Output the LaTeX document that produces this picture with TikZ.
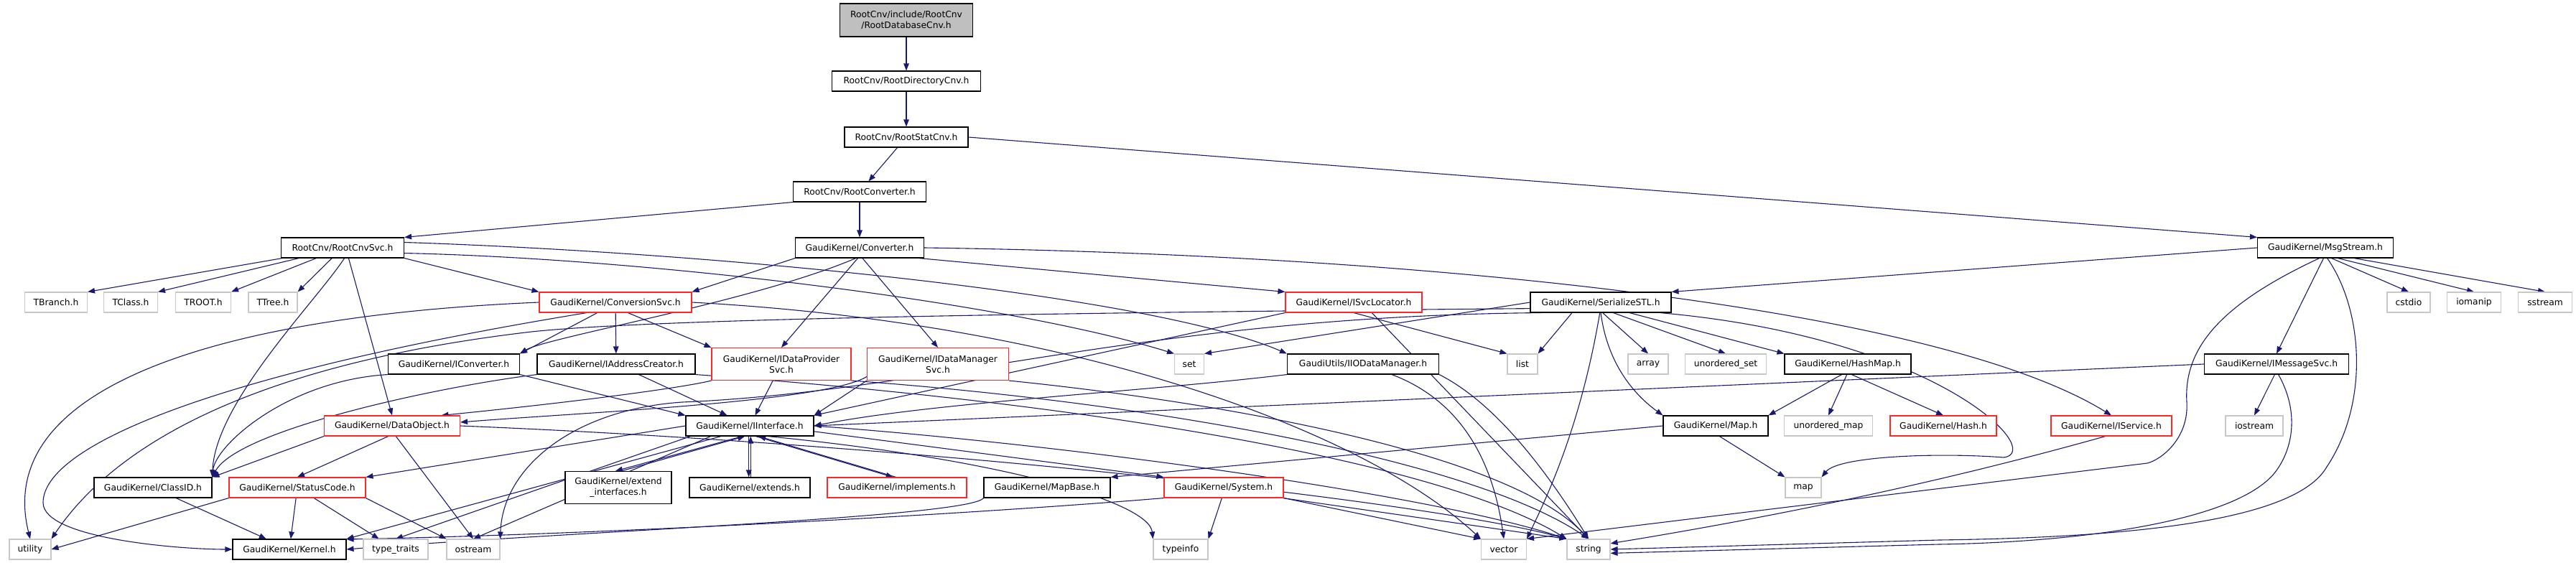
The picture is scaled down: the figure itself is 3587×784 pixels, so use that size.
\documentclass[tikz,border=0pt]{standalone}
\usepackage{fontspec}
\setmainfont{DejaVu Sans}
\usetikzlibrary{arrows.meta,backgrounds}
\definecolor{edgeblue}{RGB}{25,25,112}
\definecolor{sysgray}{RGB}{200,200,200}
\definecolor{rootgray}{RGB}{191,191,191}
\definecolor{trunc}{RGB}{255,40,40}
\tikzset{
  gk/.style={draw=black, fill=white, line width=1.1pt, inner sep=0pt, minimum height=28pt, align=center},
  rd/.style={draw=trunc, fill=white, line width=1.1pt, inner sep=0pt, minimum height=28pt, align=center},
  sy/.style={draw=sysgray, fill=white, line width=1.1pt, inner sep=0pt, minimum height=28pt, align=center},
  rt/.style={draw=black, fill=rootgray, line width=1.1pt, inner sep=0pt, minimum height=46pt, align=center},
  tall/.style={minimum height=45pt},
  e/.style={draw=edgeblue, line width=1.1pt, -{Triangle[length=10pt,width=7.5pt]}},
}
\begin{document}
\begin{tikzpicture}[x=1pt,y=-1pt,font=\fontsize{12.3}{15}\selectfont]
\useasboundingbox (0,0) rectangle (3587,784);
% nodes
\node[rt, minimum width=185] (db) at (1262,28) {RootCnv/include/RootCnv\\/RootDatabaseCnv.h};
\node[gk, minimum width=207] (dir) at (1262,113) {RootCnv/RootDirectoryCnv.h};
\node[gk, minimum width=172] (stat) at (1262,191) {RootCnv/RootStatCnv.h};
\node[gk, minimum width=185] (rconv) at (1197,267) {RootCnv/RootConverter.h};
\node[gk, minimum width=171] (svc) at (477,345) {RootCnv/RootCnvSvc.h};
\node[gk, minimum width=179] (conv) at (1197,345) {GaudiKernel/Converter.h};
\node[gk, minimum width=189] (msg) at (3238,345) {GaudiKernel/MsgStream.h};
\node[sy, minimum width=87] (tbranch) at (78,421) {TBranch.h};
\node[sy, minimum width=75] (tclass) at (182,421) {TClass.h};
\node[sy, minimum width=77] (troot) at (283,421) {TROOT.h};
\node[sy, minimum width=68] (ttree) at (380,421) {TTree.h};
\node[rd, minimum width=212] (csvc) at (857,421) {GaudiKernel/ConversionSvc.h};
\node[rd, minimum width=190] (isl) at (1885,421) {GaudiKernel/ISvcLocator.h};
\node[gk, minimum width=196] (stl) at (2229,421) {GaudiKernel/SerializeSTL.h};
\node[sy, minimum width=60] (cstdio) at (3354,421) {cstdio};
\node[sy, minimum width=75] (iomanip) at (3445,421) {iomanip};
\node[sy, minimum width=75] (sstream) at (3544,421) {sstream};
\node[gk, minimum width=183] (icv) at (632,507) {GaudiKernel/IConverter.h};
\node[gk, minimum width=220] (iac) at (858,507) {GaudiKernel/IAddressCreator.h};
\node[rd, tall, minimum width=194] (idp) at (1088,507) {GaudiKernel/IDataProvider\\Svc.h};
\node[rd, tall, minimum width=197] (idm) at (1306,507) {GaudiKernel/IDataManager\\Svc.h};
\node[sy, minimum width=41] (set) at (1656,507) {set};
\node[gk, minimum width=211] (iio) at (1898,507) {GaudiUtils/IIODataManager.h};
\node[sy, minimum width=42] (list) at (2120,507) {list};
\node[sy, minimum width=56] (array) at (2295,507) {array};
\node[sy, minimum width=113] (uset) at (2403,507) {unordered\_set};
\node[gk, minimum width=176] (hmap) at (2573,507) {GaudiKernel/HashMap.h};
\node[gk, minimum width=201] (imsg) at (3170,507) {GaudiKernel/IMessageSvc.h};
\node[rd, minimum width=189] (dobj) at (546,593) {GaudiKernel/DataObject.h};
\node[gk, minimum width=178] (iif) at (1044,593) {GaudiKernel/IInterface.h};
\node[gk, minimum width=146] (gmap) at (2389,593) {GaudiKernel/Map.h};
\node[sy, minimum width=123] (umap) at (2546,593) {unordered\_map};
\node[rd, minimum width=148] (hash) at (2706,593) {GaudiKernel/Hash.h};
\node[rd, minimum width=168] (isvc) at (2940,593) {GaudiKernel/IService.h};
\node[sy, minimum width=80] (iostream) at (3139,593) {iostream};
\node[gk, minimum width=164] (clid) at (213,679) {GaudiKernel/ClassID.h};
\node[rd, minimum width=190] (sc) at (414,679) {GaudiKernel/StatusCode.h};
\node[gk, tall, minimum width=148] (extif) at (861,679) {GaudiKernel/extend\\\_interfaces.h};
\node[gk, minimum width=168] (ext) at (1044,679) {GaudiKernel/extends.h};
\node[rd, minimum width=194] (impl) at (1249,679) {GaudiKernel/implements.h};
\node[gk, minimum width=176] (mapbase) at (1458,679) {GaudiKernel/MapBase.h};
\node[rd, minimum width=166] (sys) at (1704,679) {GaudiKernel/System.h};
\node[sy, minimum width=50] (map) at (2511,679) {map};
\node[sy, minimum width=58] (utility) at (42,765) {utility};
\node[gk, minimum width=158] (kernel) at (403,765) {GaudiKernel/Kernel.h};
\node[sy, minimum width=90] (tt) at (551,765) {type\_traits};
\node[sy, minimum width=74] (ostream) at (659,765) {ostream};
\node[sy, minimum width=76] (typeinfo) at (1644,765) {typeinfo};
\node[sy, minimum width=63] (vector) at (2094,765) {vector};
\node[sy, minimum width=60] (string) at (2212,765) {string};

\begin{scope}[on background layer]
\draw[e] (db) -- (dir);
\draw[e] (dir) -- (stat);
\draw[e] (stat) -- (rconv);
\draw[e] (stat.east) -- (msg.north west);
\draw[e] (rconv.south west) -- (svc.north east);
\draw[e] (rconv) -- (conv);
\foreach \t in {tbranch,tclass,troot,ttree} \draw[e] (svc) -- (\t.north east);
\draw[e] (svc.south east) -- (csvc.north west);
\draw[e] (svc.-5) .. controls (900,360) and (1400,420) .. (set.north west);
\draw[e] (svc.5) .. controls (1000,352) and (1600,410) .. (iio.north west);
\draw[e] (svc.-80) .. controls (440,420) and (300,560) .. (clid.north east);
\draw[e] (svc.-60) -- (dobj.north);
% Converter
\draw[e] (conv.south west) -- (csvc.north east);
\draw[e] (conv.-110) .. controls (1050,420) and (760,470) .. (icv.north east);
\draw[e] (conv.-100) -- (idp.north);
\draw[e] (conv.-75) -- (idm.north);
\draw[e] (conv.-10) -- (isl.north west);
\draw[e] (conv.east) .. controls (2000,355) and (2700,430) .. (isvc.north);
% ConversionSvc
\draw[e] (csvc.west) .. controls (300,440) and (-10,540) .. (utility.north);
\draw[e] (csvc.-160) .. controls (300,520) and (60,620) .. (60,700) .. controls (60,750) and (250,765) .. (kernel.west);
\draw[e] (csvc.-150) -- (icv.north east);
\draw[e] (csvc) -- (iac);
\draw[e] (csvc.-40) -- (idp.north west);
\draw[e] (csvc.east) .. controls (1500,450) and (1900,600) .. (vector.north west);
% interfaces
\draw[e] (icv.south west) .. controls (400,530) and (300,620) .. (clid.north east);
\draw[e] (icv.south east) -- (iif.north west);
\draw[e] (iac.south west) .. controls (600,540) and (330,600) .. (clid.north east);
\draw[e] (iac) -- (iif);
\draw[e] (iac.south east) .. controls (1500,560) and (2000,640) .. (string.north west);
\draw[e] (idp) -- (iif);
\draw[e] (idp.south west) .. controls (950,540) and (800,560) .. (dobj.12);
\draw[e] (idp.south east) .. controls (1600,560) and (2050,640) .. (string.north);
\draw[e] (idm.south west) -- (iif.north east);
\draw[e] (idm.-170) .. controls (1150,560) and (800,575) .. (dobj.3);
\draw[e] (idm.south east) .. controls (1700,560) and (2100,630) .. (string.north);
\draw[e] (isl.south west) -- (iif.north east);
\draw[e] (isl.south) -- (list.north west);
\draw[e] (isl.-30) -- (string.north);
\draw[e] (iio.south west) .. controls (1600,545) and (1300,560) .. (iif.east);
\draw[e] (iio.south east) .. controls (2080,560) and (2150,650) .. (string.north);
\draw[e] (iio.-20) .. controls (2040,560) and (2080,650) .. (vector.north);
% SerializeSTL
\draw[e] (stl.west) -- (set.north east);
\draw[e] (stl.-160) -- (list.north east);
\draw[e] (stl.-80) -- (array.north);
\draw[e] (stl.-40) -- (uset.north);
\draw[e] (stl.-20) -- (hmap.north west);
\draw[e] (stl.-90) .. controls (2240,520) and (2290,560) .. (gmap.north west);
\draw[e] (stl.-95) .. controls (2200,600) and (2150,700) .. (vector.north east);
\draw[e] (stl.-10) .. controls (2700,470) and (2850,630) .. (2790,637) .. controls (2700,630) and (2560,635) .. (map.north east);
\draw[e] (stl.185) .. controls (1400,436) and (900,445) .. (740,462) .. controls (500,490) and (200,560) .. (utility.north east);
\draw[e] (stl.190) .. controls (1600,440) and (1300,545) .. (950,560) .. controls (800,570) and (700,650) .. (ostream.north east);
% MsgStream
\draw[e] (msg.west) -- (stl.north east);
\draw[e] (msg.-100) -- (imsg.north);
\draw[e] (msg.-60) -- (cstdio.north);
\draw[e] (msg.-40) -- (iomanip.north);
\draw[e] (msg.-20) -- (sstream.north);
\draw[e] (msg.-120) .. controls (3100,420) and (3040,480) .. (3045,560) .. controls (3048,610) and (3010,640) .. (2990,645) -- (vector.north east);
\draw[e] (msg.-80) .. controls (3290,430) and (3300,560) .. (3240,650) .. controls (3200,720) and (3000,748) .. (2700,752) -- (string.east);
% IMessageSvc
\draw[e] (imsg.west) -- (iif.east);
\draw[e] (imsg.-100) -- (iostream.north);
\draw[e] (imsg.-80) .. controls (3200,570) and (3195,620) .. (3170,655) .. controls (3120,725) and (2900,755) .. (2700,758) -- (string.-10);
% HashMap / Map
\draw[e] (hmap.-120) -- (gmap.north east);
\draw[e] (hmap.-95) -- (umap.north);
\draw[e] (hmap.-70) -- (hash.north);
\draw[e] (gmap.west) -- (mapbase.north east);
\draw[e] (gmap.-70) -- (map.north west);
\draw[e] (isvc.-120) .. controls (2780,650) and (2560,705) .. (string.15);
% DataObject
\draw[e] (dobj.south west) -- (clid.north east);
\draw[e] (dobj.-110) -- (sc.north);
\draw[e] (dobj.-70) -- (ostream.north);
\draw[e] (dobj.east) .. controls (1300,620) and (2000,700) .. (string.north west);
% IInterface
\draw[e] (iif.-160) -- (kernel.north east);
\draw[e] (iif.west) -- (sc.north east);
\draw[e] (iif.-5) -- (sys.north west);
\draw[e] (iif.-165) -- (ostream.north);
\draw[e] (iif.-170) -- (tt.north);
\draw[e] (iif.-30) .. controls (1400,640) and (1600,700) .. (typeinfo.north west);
\draw[e] (iif.east) .. controls (1500,620) and (2000,690) .. (string.north west);
\draw[e] (iif.-125) -- (extif.100);
\draw[e] (extif.80) -- (iif.-115);
\draw[e] (iif.-95) -- (ext.95);
\draw[e] (ext.85) -- (iif.-85);
\draw[e] (iif.-60) -- (impl.110);
\draw[e] (impl.95) -- (iif.-50);
% others
\draw[e] (clid) -- (kernel);
\draw[e] (sc.south west) -- (utility.east);
\draw[e] (sc) -- (kernel);
\draw[e] (sc) -- (tt);
\draw[e] (sc.south east) -- (ostream.north west);
\draw[e] (mapbase.south west) .. controls (1350,720) and (800,740) .. (kernel.east);
\draw[e] (sys.south west) .. controls (1300,720) and (800,745) .. (kernel.10);
\draw[e] (sys.-100) -- (typeinfo.north east);
\draw[e] (sys.south east) -- (vector.north west);
\draw[e] (sys.-10) -- (string.north west);
\end{scope}
\end{tikzpicture}
\end{document}
